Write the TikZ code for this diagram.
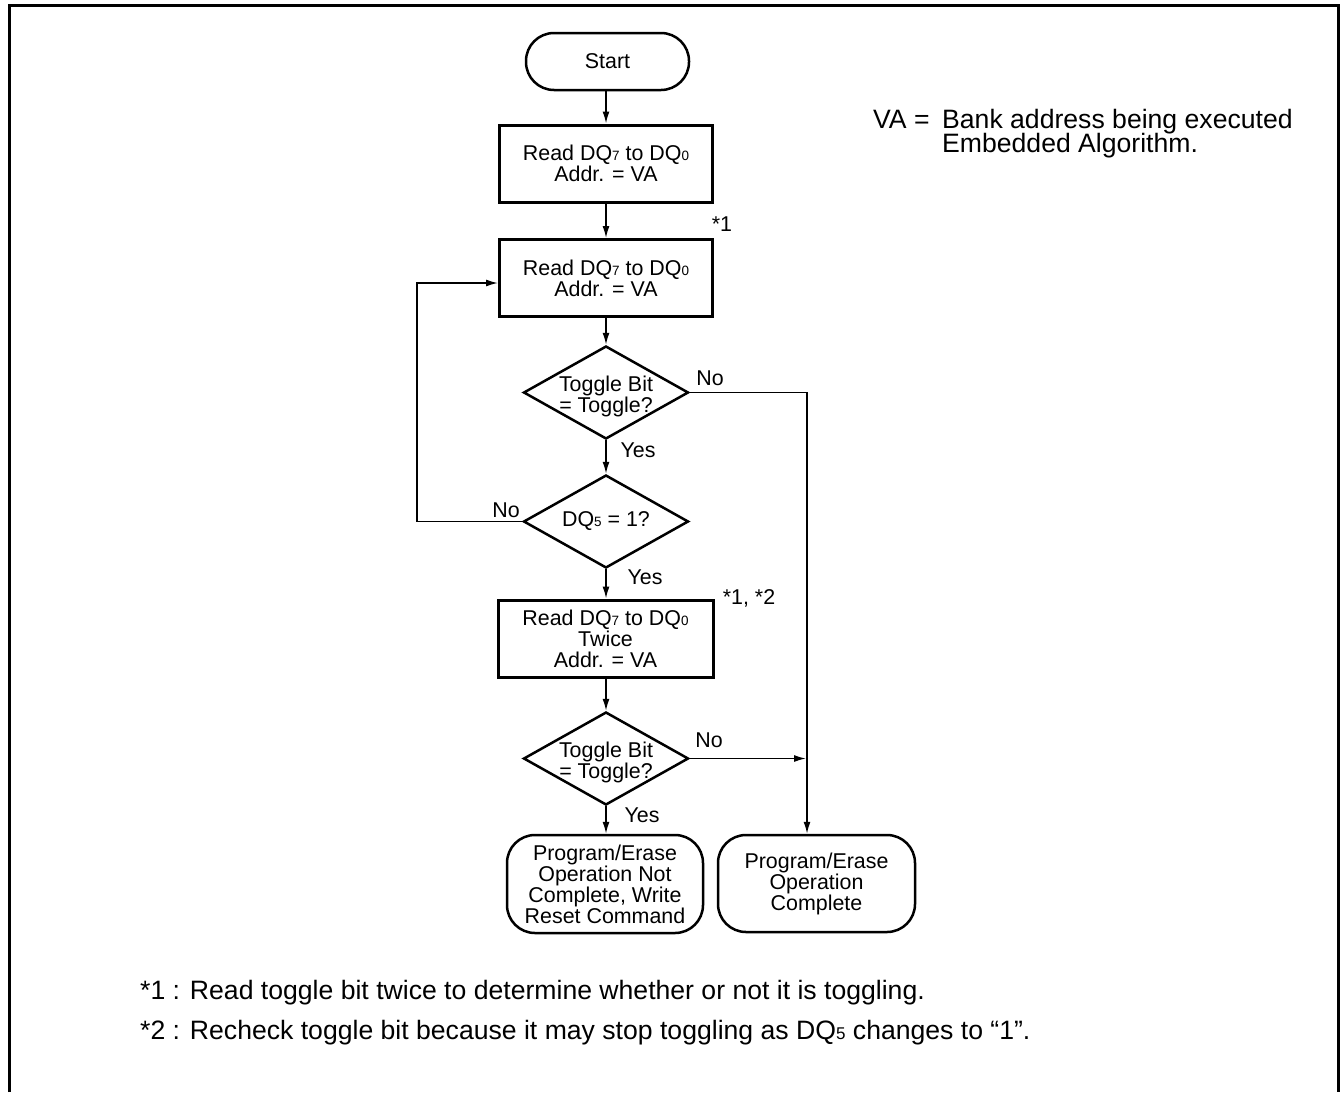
\documentclass[tikz,border=0pt]{standalone}
\usepackage{fontspec}
\setmainfont{Liberation Sans}
\usetikzlibrary{shapes.geometric,arrows.meta}
\newcommand{\smallsub}[2]{{\fontsize{#1}{#1}\selectfont #2}}
\tikzset{
  base/.style={font=\fontsize{21.4}{21}\selectfont, align=center, inner sep=0pt},
  procbox/.style={base, draw, line width=3pt, minimum width=213pt, minimum height=77pt},
  term/.style={base, draw, line width=2.5pt, rounded corners=28pt},
  dec/.style={diamond, draw, line width=2.5pt, minimum width=165pt, minimum height=93pt, inner sep=0pt, aspect=1.774},
  conn/.style={line width=1.5pt, -{Latex[length=12pt,width=7pt]}},
  lbl/.style={base},
  note/.style={font=\fontsize{26.6}{30}\selectfont, inner sep=0pt, anchor=base west},
  foot/.style={font=\fontsize{26.6}{30}\selectfont, inner sep=0pt, anchor=base west}
}
\begin{document}
\begin{tikzpicture}[x=1pt,y=-1pt]
\useasboundingbox (0,0) rectangle (1340,1092);
\fill[white] (0,0) rectangle (1340,1092);
\draw[line width=3pt] (9,1092) -- (9,5) -- (1338.5,5) -- (1338.5,1092);

\node[term, minimum width=163pt, minimum height=57pt] (start) at (607.5,61.5) {Start};
\node[procbox] (b1) at (606,163.5) {Read DQ\smallsub{13.5}{7} to DQ\smallsub{13.5}{0}\\Addr. = VA};
\node[procbox] (b2) at (606,278) {Read DQ\smallsub{13.5}{7} to DQ\smallsub{13.5}{0}\\Addr. = VA};
\node[dec] (d1) at (606,392.5) {};
\node[lbl] (d1t) at (606,396) {Toggle Bit\\= Toggle?};
\node[dec] (d2) at (606,521.5) {};
\node[lbl] (d2t) at (606,521.5) {DQ\smallsub{13.5}{5} = 1?};
\node[procbox, minimum width=215pt] (b3) at (605.5,638.5) {Read DQ\smallsub{13.5}{7} to DQ\smallsub{13.5}{0}\\Twice\\Addr. = VA};
\node[dec] (d3) at (606,758.5) {};
\node[lbl] (d3t) at (606,762) {Toggle Bit\\= Toggle?};
\node[term, minimum width=196pt, minimum height=98pt] (t1) at (605,884) {Program/Erase\\Operation Not\\Complete, Write\\Reset Command};
\node[term, minimum width=197pt, minimum height=97pt] (t2) at (816.5,883.5) {Program/Erase\\Operation\\Complete};

\coordinate (r1) at (807,392.5);
\coordinate (rj) at (806,758.5);
\coordinate (lp) at (417,521.5);

\draw[conn] (start.south -| b1.north) -- (b1.north);
\draw[conn] (b1) -- (b2);
\draw[conn] (b2) -- (d1);
\draw[conn] (d1) -- (d2);
\draw[conn] (d2) -- (b3.north -| d2.south);
\draw[conn] (b3.south -| d3.north) -- (d3.north);
\draw[conn] (d3) -- (t1.north -| d3.south);
\draw[conn] (d1.east) -- (r1) -- (r1 |- t2.north);
\draw[conn] (d3.east) -- (rj);
\draw[conn] (d2.west) -- (lp) |- ([yshift=-5pt]b2.west);

\node[lbl] (no1) at (710,378) {No};
\node[lbl] (yes1) at (638,450) {Yes};
\node[lbl] (no2) at (506,510) {No};
\node[lbl] (yes2) at (645,577) {Yes};
\node[lbl] (no3) at (709,740) {No};
\node[lbl] (yes3) at (642,815) {Yes};
\node[lbl] (s1) at (722,224) {*1};
\node[lbl] (s12) at (749,598) {*1, *2};

\node[note] (va) at (873,128) {VA =};
\node[note] (va1) at (942,128) {Bank address being executed};
\node[note] (va2) at (942,152) {Embedded Algorithm.};

\node[foot] (f1) at (140,999) {*1 : Read toggle bit twice to determine whether or not it is toggling.};
\node[foot] (f2) at (140,1039) {*2 : Recheck toggle bit because it may stop toggling as DQ\smallsub{17}{5} changes to “1”.};
\end{tikzpicture}
\end{document}
